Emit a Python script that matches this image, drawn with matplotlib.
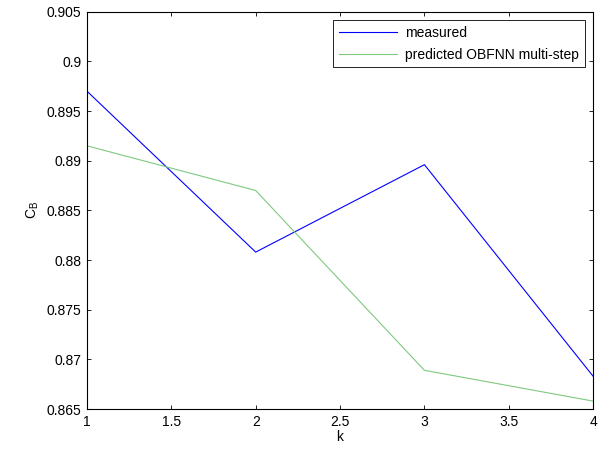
import matplotlib
matplotlib.use("Agg")
import matplotlib.pyplot as plt

# values
k = [1, 2, 3, 4]
measured = [0.8970, 0.8808, 0.8896, 0.8683]
predicted = [0.8915, 0.8870, 0.8689, 0.8658]

plt.rcParams['font.family'] = ['Liberation Sans', 'DejaVu Sans']
plt.rcParams['font.size'] = 10

fig = plt.figure(figsize=(6.04, 4.5), dpi=100)
ax = fig.add_axes([0.144, 0.091, 0.838, 0.883])

ax.plot(k, measured, color="#0000ff", linewidth=0.8, label="measured")
ax.plot(k, predicted, color="#7fc97f", linewidth=0.8, label="predicted OBFNN multi-step")

ax.set_xlim(1, 4)
ax.set_ylim(0.865, 0.905)
ax.set_xticks([1, 1.5, 2, 2.5, 3, 3.5, 4])
ax.set_xticklabels(["1", "1.5", "2", "2.5", "3", "3.5", "4"])
ax.set_yticks([0.865, 0.87, 0.875, 0.88, 0.885, 0.89, 0.895, 0.9, 0.905])
ax.set_yticklabels(["0.865", "0.87", "0.875", "0.88", "0.885", "0.89", "0.895", "0.9", "0.905"])
ax.tick_params(direction="in", top=True, right=True, length=3, width=0.6, labelsize=10, pad=4)
for s in ax.spines.values():
    s.set_linewidth(0.8)

ax.set_xlabel("k", labelpad=1)
ax.set_ylabel("C$_\\mathregular{B}$", labelpad=4)

leg = ax.legend(loc="upper right", fancybox=False, framealpha=1, edgecolor="black",
                borderaxespad=0.6, handlelength=4.2, handletextpad=0.6,
                fontsize=10, labelspacing=0.6)
leg.get_frame().set_linewidth(0.6)

fig.savefig("out.png", dpi=100)
